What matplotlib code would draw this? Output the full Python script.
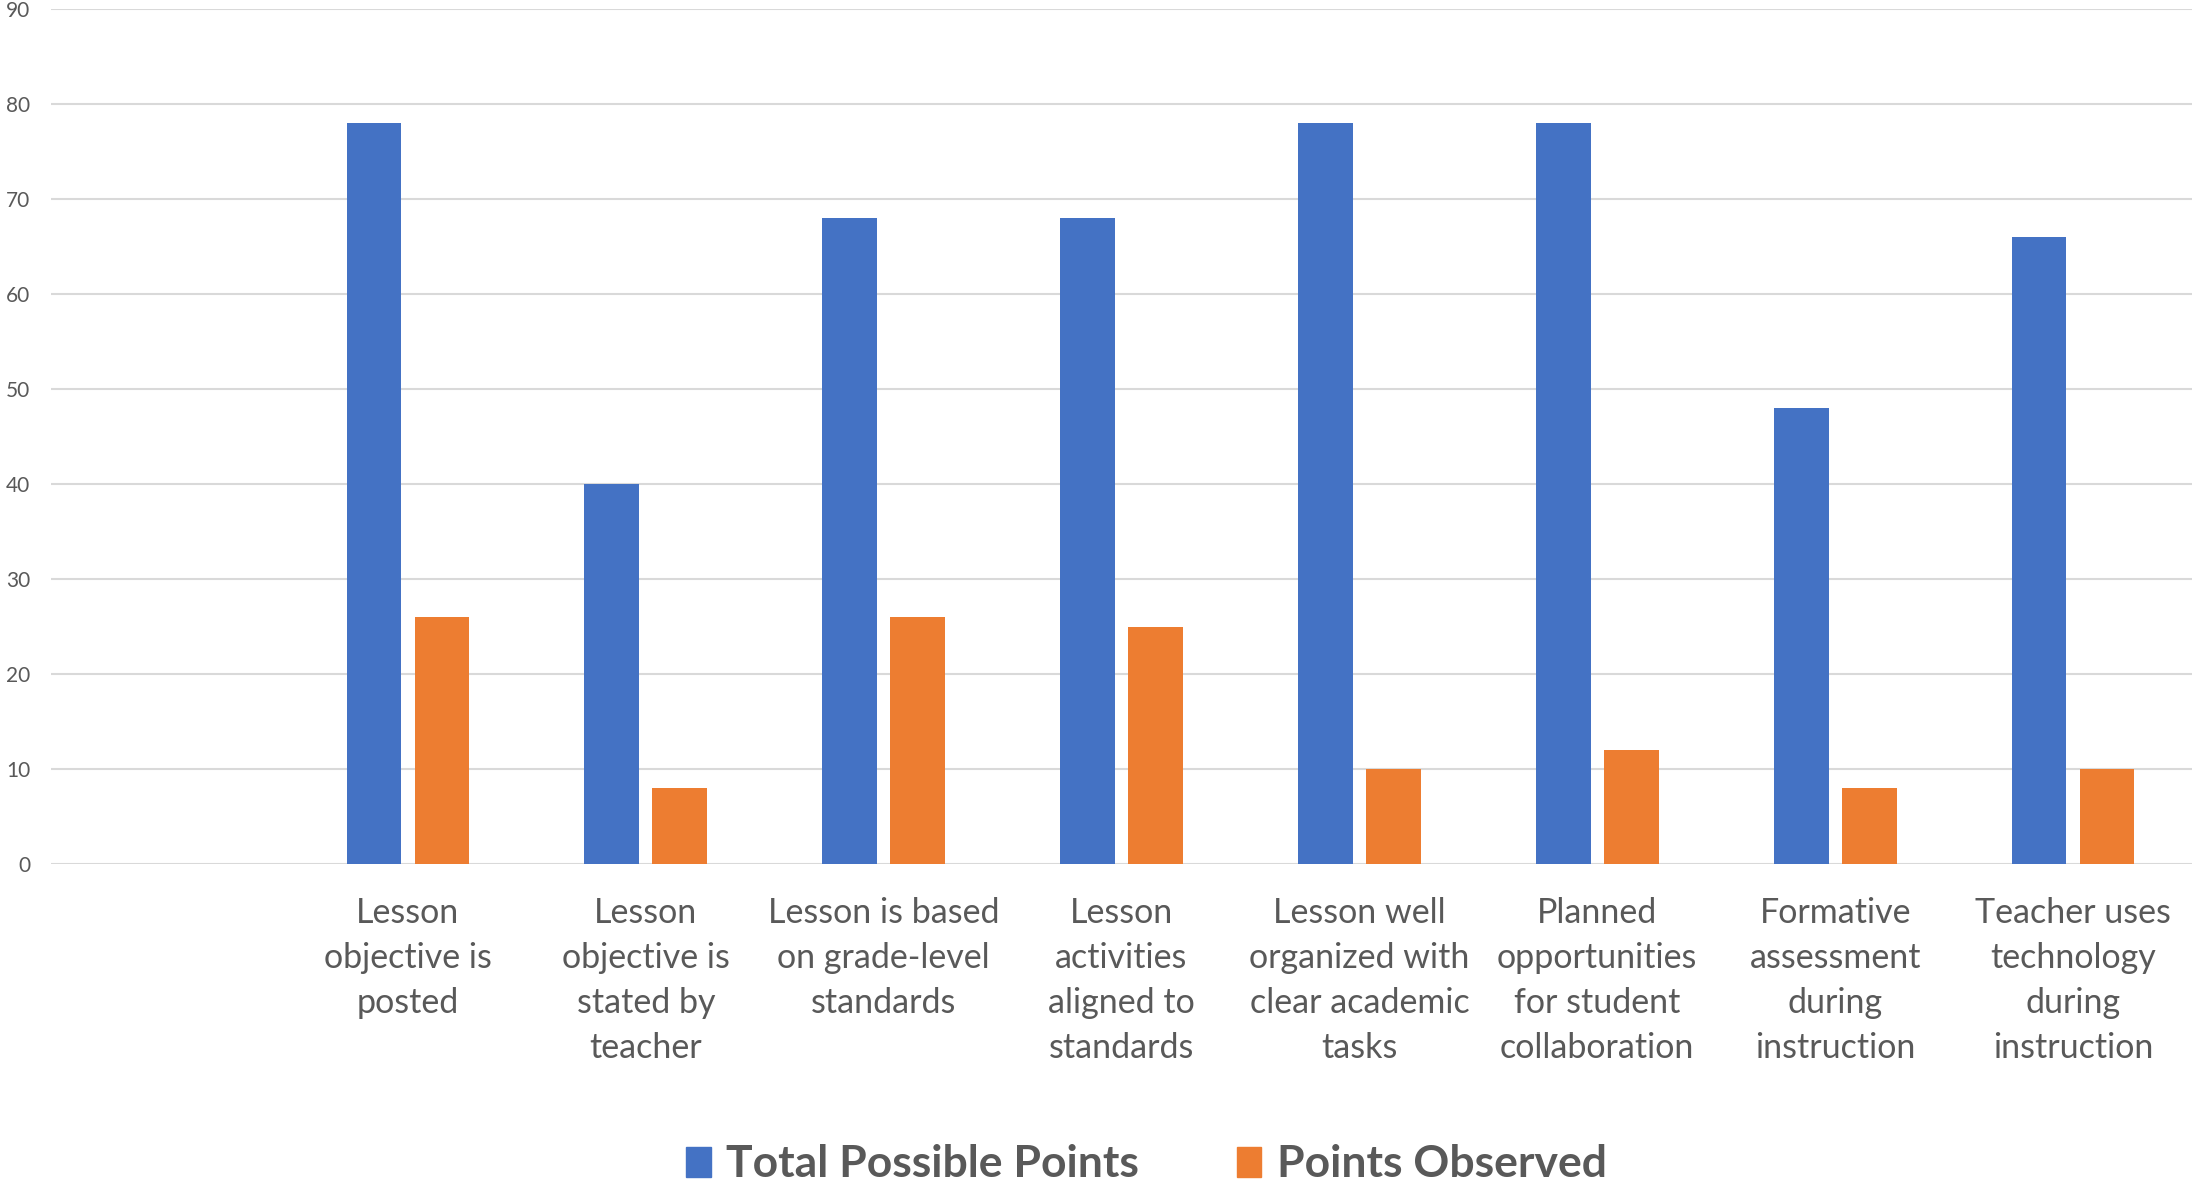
import matplotlib
matplotlib.use("Agg")
import matplotlib.pyplot as plt
import numpy as np
from matplotlib.patches import Patch

# data
categories = ["Lesson\nobjective is\nposted",
              "Lesson\nobjective is\nstated by\nteacher",
              "Lesson is based\non grade-level\nstandards",
              "Lesson\nactivities\naligned to\nstandards",
              "Lesson well\norganized with\nclear academic\ntasks",
              "Planned\nopportunities\nfor student\ncollaboration",
              "Formative\nassessment\nduring\ninstruction",
              "Teacher uses\ntechnology\nduring\ninstruction"]
total_possible = [78, 40, 68, 68, 78, 78, 48, 66]
points_observed = [26, 8, 26, 25, 10, 12, 8, 10]
yticks = [0, 10, 20, 30, 40, 50, 60, 70, 80, 90]

blue = "#4472C4"
orange = "#ED7D31"
grey_txt = "#595959"
plt.rcParams['font.family'] = ['Lato', 'DejaVu Sans']

fig = plt.figure(figsize=(21.92, 11.87), dpi=100)
ax = fig.add_axes([0.0233, 0.2721, 0.9767, 0.7203])

# first slot of the category axis is left empty, like the original
x = np.arange(1, len(categories) + 1)
w = 0.23
ax.bar(x - 0.143, total_possible, w, color=blue, zorder=3, label="Total Possible Points")
ax.bar(x + 0.143, points_observed, w, color=orange, zorder=3, label="Points Observed")

ax.set_xlim(-0.5, len(categories) + 0.5)
ax.set_ylim(0, 90)
ax.set_yticks(yticks)
ax.set_yticklabels([str(t) for t in yticks], fontsize=15, color=grey_txt)
ax.set_xticks(x)
ax.set_xticklabels(categories, fontsize=24.5, color=grey_txt, linespacing=1.5)
ax.tick_params(axis='x', length=0, pad=24)
ax.tick_params(axis='y', length=0, pad=15)
ax.grid(axis='y', color="#D9D9D9", linewidth=1.5, zorder=0)
for s in ax.spines.values():
    s.set_visible(False)

handles = [Patch(color=blue), Patch(color=orange)]
fig.legend(handles, ["Total Possible Points", "Points Observed"],
           loc='center', bbox_to_anchor=(0.523, 0.019), ncol=2, frameon=False,
           prop={'size': 32, 'weight': 'bold'}, labelcolor=grey_txt,
           handlelength=0.55, handleheight=0.65, handletextpad=0.35,
           columnspacing=2.2)

fig.savefig("out.png", dpi=100)
